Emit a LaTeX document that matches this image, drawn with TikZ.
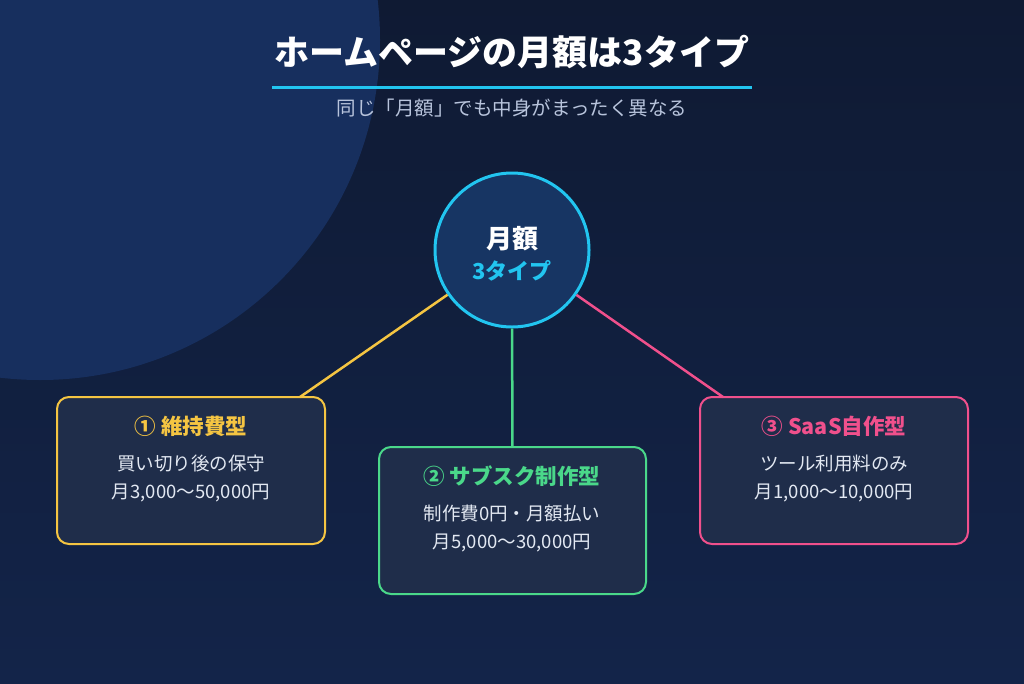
\documentclass[tikz,border=0pt]{standalone}
\usepackage{fontspec}
\setmainfont{Noto Sans CJK JP}
\begin{document}
\begin{tikzpicture}[x=1pt,y=-1pt,
  box/.style={draw,line width=2pt,rounded corners=12pt,fill=boxbg},
  conn/.style={line width=2.5pt},
  ttl/.style={font=\fontsize{21.5}{24}\selectfont\bfseries},
  body/.style={text=bodyc,font=\fontsize{18.5}{28}\selectfont,align=center}]
\definecolor{bgA}{HTML}{0F1A33}\definecolor{bgB}{HTML}{132449}
\definecolor{glow}{HTML}{172F5E}\definecolor{cy}{HTML}{22C5F0}
\definecolor{yel}{HTML}{F5C542}\definecolor{grn}{HTML}{4AD88A}
\definecolor{pnk}{HTML}{F0508C}\definecolor{boxbg}{HTML}{1F2D4A}
\definecolor{bodyc}{HTML}{E2E8F2}\definecolor{sub}{HTML}{B8C4DC}
\definecolor{cfill}{HTML}{173563}
\shade[top color=bgA,bottom color=bgB] (0,0) rectangle (1024,683);
\useasboundingbox (0,0) rectangle (1024,683);
\begin{scope}
\clip (0,0) rectangle (1024,683);
\fill[glow] (40,40) circle (340);
\end{scope}
\node[text=white,font=\fontsize{35}{38}\selectfont\bfseries] (title) at (512,52) {ホームページの月額は3タイプ};
\draw[cy,line width=3pt] (272,87) -- (752,87);
\node[text=sub,font=\fontsize{19.5}{22}\selectfont] (subt) at (512,108) {同じ「月額」でも中身がまったく異なる};
\node[circle,draw=cy,line width=3pt,fill=cfill,minimum size=154pt] (c) at (512,250) {};
\node[text=white,font=\fontsize{26}{28}\selectfont\bfseries] at (512,239) {月額};
\node[text=cy,font=\fontsize{22}{24}\selectfont\bfseries] at (512,271) {3タイプ};
\node[box,draw=yel,minimum width=268pt,minimum height=147pt] (b1) at (191,470.5) {};
\node[box,draw=grn,minimum width=267pt,minimum height=147pt] (b2) at (512.5,520.5) {};
\node[box,draw=pnk,minimum width=268pt,minimum height=147pt] (b3) at (834,470.5) {};
\draw[conn,yel] (c) -- (300,397);
\draw[conn,grn] (c) -- (b2);
\draw[conn,pnk] (c) -- (723,397);
\node[ttl,text=yel] at (191,426) {① 維持費型};
\node[body] at (191,478) {買い切り後の保守\\月3,000〜50,000円};
\node[ttl,text=grn] at (512,476) {② サブスク制作型};
\node[body] at (512,528) {制作費0円・月額払い\\月5,000〜30,000円};
\node[ttl,text=pnk] at (834,426) {③ SaaS自作型};
\node[body] at (834,478) {ツール利用料のみ\\月1,000〜10,000円};
\end{tikzpicture}
\end{document}
